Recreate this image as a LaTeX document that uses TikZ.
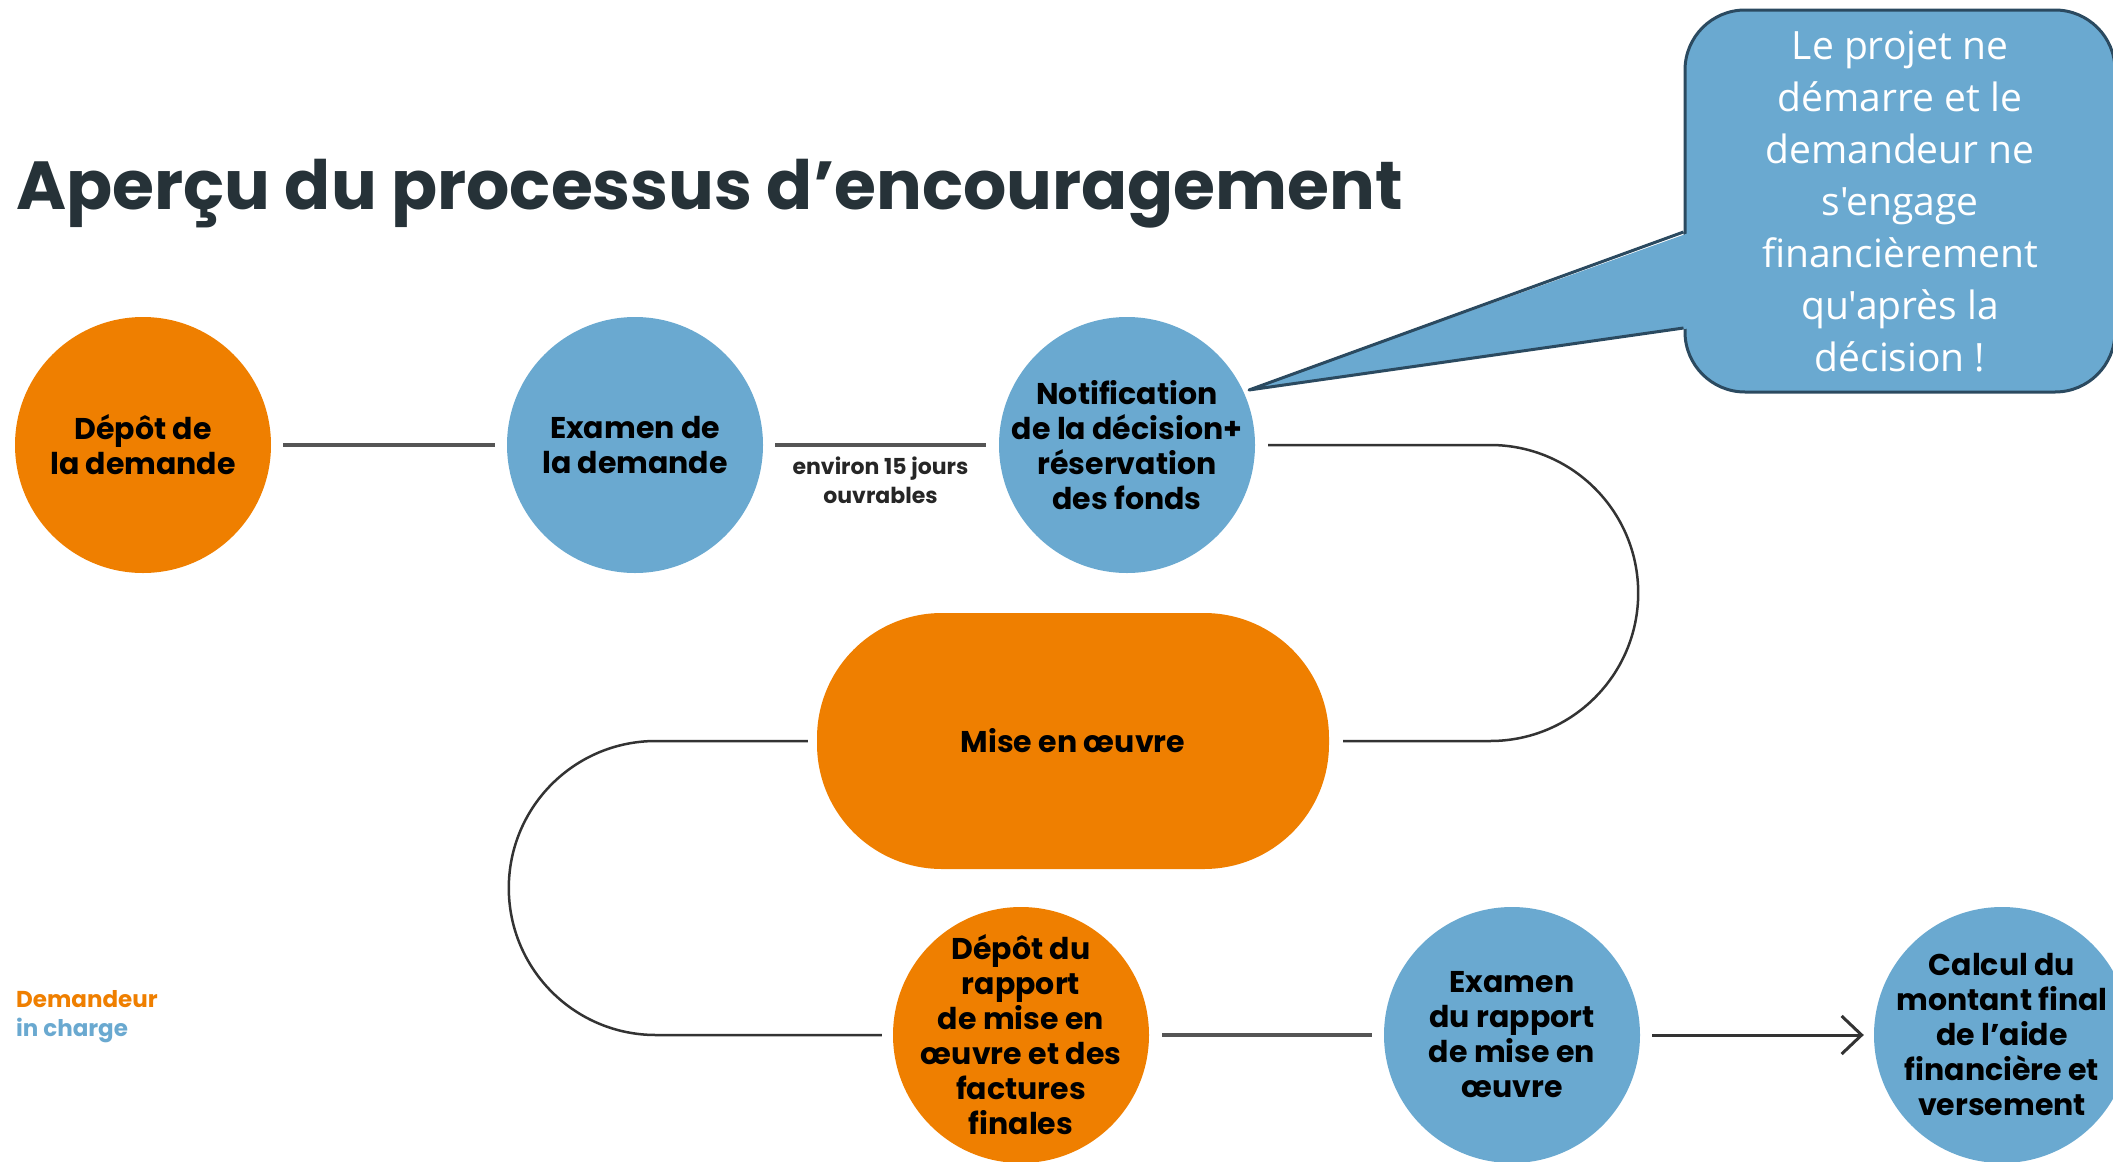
\documentclass[tikz,border=0pt]{standalone}
\usepackage{fontspec}
\setmainfont{Poppins}
\newfontfamily\notefont{Open Sans}
\usepackage{xcolor}
\usetikzlibrary{arrows.meta, positioning, calc}

\definecolor{orangeD}{HTML}{EF7F00}
\definecolor{blueC}{HTML}{6AA9D0}
\definecolor{titleInk}{HTML}{263238}
\definecolor{linkGray}{HTML}{555555}
\definecolor{linkDark}{HTML}{333333}
\definecolor{noteBorder}{HTML}{2B4A60}

\newcommand\titlefont{\fontsize{68}{74}\selectfont\bfseries}
\newcommand\stepfont{\fontsize{30}{35}\selectfont\bfseries}
\newcommand\delayfont{\fontsize{22}{29}\selectfont\bfseries}
\newcommand\legendfont{\fontsize{23}{30}\selectfont\bfseries}
\newcommand\calloutfont{\notefont\fontsize{39}{52}\selectfont}

\begin{document}
\begin{tikzpicture}[x=1pt, y=1pt,
    stepnode/.style={circle, minimum size=256pt, inner sep=0pt},
    steptext/.style={align=center, font=\stepfont, inner sep=0pt},
    demandeur/.style={stepnode, fill=orangeD},
    chargee/.style={stepnode, fill=blueC},
    link/.style={line width=4pt, draw=linkGray},
    bendlink/.style={line width=2.5pt, draw=linkDark}]
    \useasboundingbox (0,0) rectangle (2113,-1162);

    % Title
    \node[anchor=base west, font=\titlefont, text=titleInk, inner sep=0pt] (title) at (16,-209) {Aperçu du processus d’encouragement};

    % Draw the steps
    \foreach \name/\x/\y/\who/\txt in {depot/143/-445/demandeur/{Dépôt de\\la demande},
        examen/635/-445/chargee/{Examen de\\la demande},
        notif/1127/-445/chargee/{Notification\\de la décision+\\réservation\\des fonds},
        rapport/1021/-1035/demandeur/{Dépôt du\\rapport\\de mise en\\œuvre et des\\factures\\finales},
        examenrap/1512/-1035/chargee/{Examen\\du rapport\\de mise en\\œuvre},
        calcul/2002/-1035/chargee/{Calcul du\\montant final\\de l’aide\\financière et\\versement}} {
        \node[\who] (\name) at (\x,\y) {};
        \node[steptext] (\name-text) at (\name) {\txt};
    }
    \node[demandeur, rectangle, rounded corners=125pt, minimum width=512pt, minimum height=256pt] (mise) at (1073,-741) {};
    \node[steptext] (mise-text) at (mise) {Mise en œuvre};

    % Draw the connectors
    \draw[link] ([xshift=12pt]depot.east) -- ([xshift=-12pt]examen.west);
    \draw[link] ([xshift=12pt]examen.east) -- node[midway, below=7pt, align=center, font=\delayfont, text=black!85] (delay) {environ 15 jours\\ouvrables} ([xshift=-13pt]notif.west);
    \draw[bendlink] ([xshift=13pt]notif.east) -- ++(222,0) arc[start angle=90, end angle=-90, radius=148] -- ([xshift=14pt]mise.east);
    \draw[bendlink] ([xshift=-9pt]mise.west) -- ++(-152,0) arc[start angle=90, end angle=270, radius=147] -- ([xshift=-11pt]rapport.west);
    \draw[link] ([xshift=13pt]rapport.east) -- ([xshift=-12pt]examenrap.west);
    \draw[link, draw=linkDark, line width=3pt, -{Straight Barb[length=20pt, width=38pt]}] ([xshift=12pt]examenrap.east) -- ([xshift=-10pt]calcul.west);

    % Legend
    \node[anchor=west, inner sep=0pt, font=\legendfont, text=orangeD] (legdem) at (16,-999) {Demandeur};
    \node[anchor=west, inner sep=0pt, font=\legendfont, text=blueC] (legcharge) at (16,-1030) {in charge};

    % Callout
    \node[fill=blueC, draw=noteBorder, line width=3pt, rounded corners=60pt, minimum width=430pt, minimum height=382pt,
        align=center, text=white, font=\calloutfont] (note) at (1900,-201)
        {Le projet ne\\démarre et le\\demandeur ne\\s'engage\\financièrement\\qu'après la\\décision !};
    \coordinate (tip) at (1249,-390);
    \fill[blueC] (tip) -- ([xshift=8pt, yshift=-31pt]note.west) -- ([xshift=8pt, yshift=-127pt]note.west) -- cycle;
    \draw[noteBorder, line width=3pt, line join=round] ([yshift=-31pt]note.west) -- (tip) -- ([yshift=-127pt]note.west);
\end{tikzpicture}
\end{document}
